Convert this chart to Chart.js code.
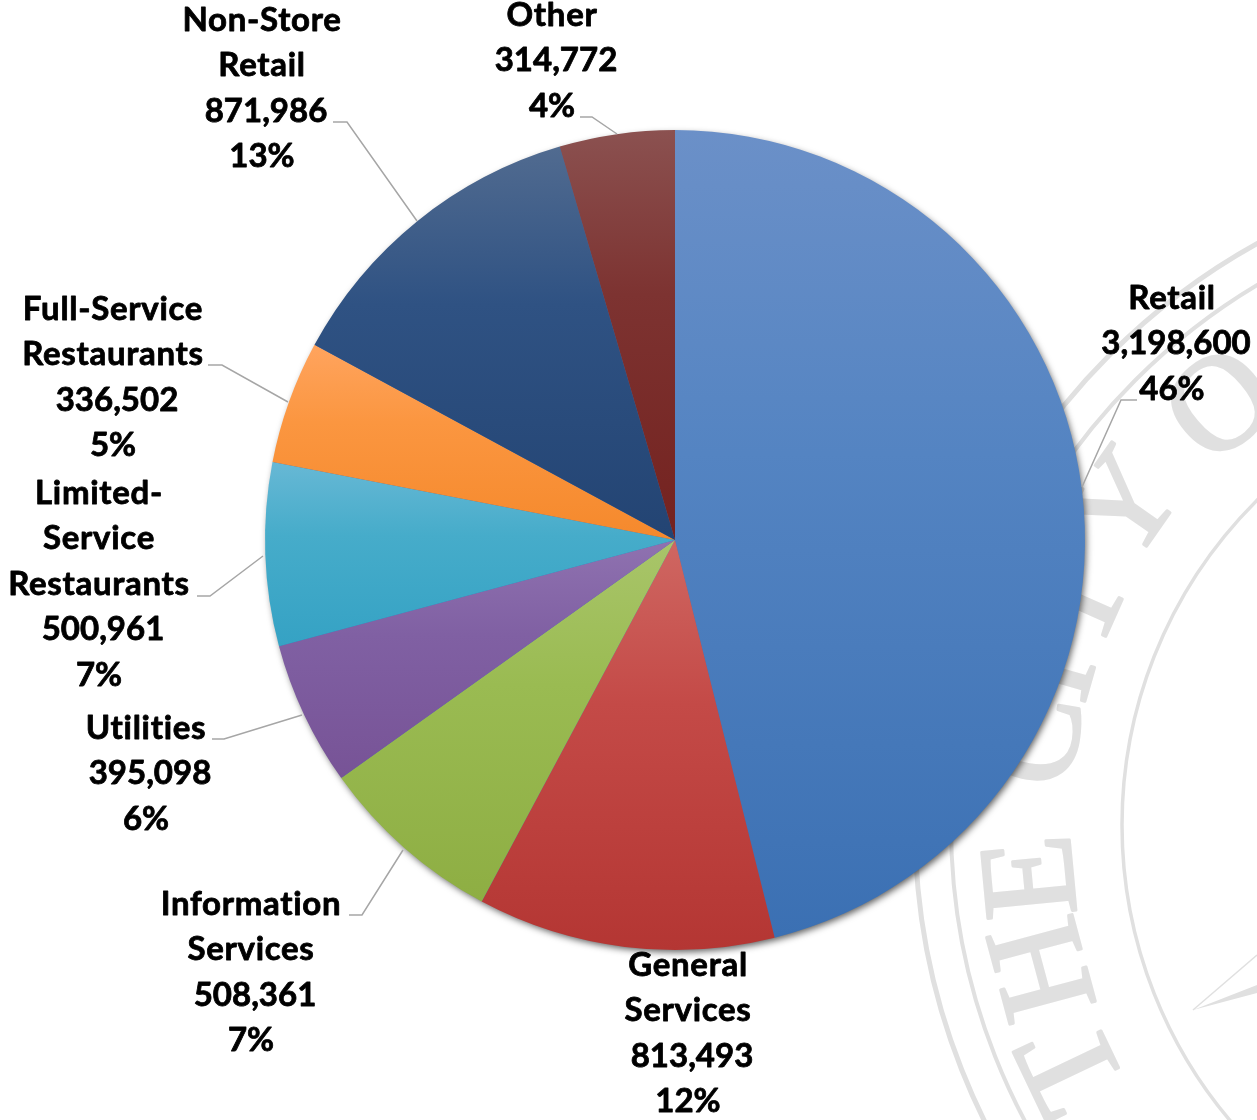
<!DOCTYPE html>
<html><head><meta charset="utf-8">
<style>html,body{margin:0;padding:0;background:#fff;overflow:hidden}canvas{display:block}</style>
<script src="https://cdn.jsdelivr.net/npm/chart.js@4"></script>
</head><body>
<canvas id="c" width="1257" height="1120"></canvas>
<script>
const categories = ["Retail","General Services","Information Services","Utilities","Limited-Service Restaurants","Full-Service Restaurants","Non-Store Retail","Other"];
const values = [3198600,813493,508361,395098,500961,336502,871986,314772];
const percents = ["46%","12%","7%","6%","7%","5%","13%","4%"];
const nameLines = [["Retail"],["General","Services"],["Information","Services"],["Utilities"],["Limited-","Service","Restaurants"],["Full-Service","Restaurants"],["Non-Store","Retail"],["Other"]];
const topColors = ["#6b90c8","#cf6762","#a9c56a","#8f72b0","#67b8d5","#ffa45e","#516b90","#8b5150"];
const midColors = ["#5484c2","#c44a47","#9abb52","#8060a3","#46acca","#fb9640","#2f5283","#7d3331"];
const bottomColors = ["#3b70b3","#b43633","#8eae43","#775396","#35a2c4","#f5892c","#234473","#74221f"];
const labelAnchors = [[1172,298],[688,965],[251,904],[146,728],[99,493],[113,309],[262,20],[552,15]];
const leaderLines = [
  [[1137,400],[1121,400],[1082,487]],null,
  [[349,915],[362,915],[403,850]],
  [[212,739],[224,739],[302,715]],
  [[197,596],[210,596],[263,556]],
  [[208,365],[222,365],[288,402]],
  [[333,122],[347,122],[417,221]],
  [[580,117],[592,117],[617,134]]
];
const sealLetters = [["T",154.5,566],["H",165,559],["E",174.6,555],["C",188.9,555],["I",196,555],["T",204,555],["Y",215,560],["O",229.5,556]];
const sealRings = [[665,5],[629,4],[458,3.5]];

const RAD = 410, LINE_H = 45.5;
function sliceRange(i, cy){
  const total = values.reduce((a,b)=>a+b,0);
  let before = 0; for(let k=0;k<i;k++) before += values[k];
  const a0 = before/total*2*Math.PI, a1 = (before+values[i])/total*2*Math.PI;
  const ys = [cy, cy-RAD*Math.cos(a0), cy-RAD*Math.cos(a1)];
  if (a0 < Math.PI && a1 > Math.PI) ys.push(cy+RAD);
  if (a0 <= 0) ys.push(cy-RAD);
  return [Math.min(...ys), Math.max(...ys)];
}
const watermark = {
  id:"watermark",
  beforeDatasetsDraw(chart){
    const g = chart.ctx, cx = 1580, cy = 825;
    g.save();
    g.strokeStyle = g.fillStyle = "#e0e0e0";
    sealRings.forEach(([r,w])=>{g.lineWidth=w;g.beginPath();g.arc(cx,cy,r,0,2*Math.PI);g.stroke();});
    g.font = "135px 'Liberation Serif'"; g.textAlign="center"; g.textBaseline="alphabetic";
    g.lineWidth = 3; g.lineJoin = "round";
    sealLetters.forEach(([ch,deg,r])=>{
      const t = deg*Math.PI/180, rb = r-45;
      g.save();
      g.translate(cx+rb*Math.cos(t), cy+rb*Math.sin(t));
      g.rotate(t+Math.PI/2);
      g.fillText(ch,0,0);
      g.strokeText(ch,0,0);
      g.restore();
    });
    g.beginPath();g.moveTo(1193,1010);g.lineTo(1257,993);g.lineTo(1257,985);g.closePath();g.fill();
    g.lineWidth=1.5;g.beginPath();g.moveTo(1193,1010);g.lineTo(1257,955);g.stroke();
    g.restore();
    const a = chart.getDatasetMeta(0).data[0];
    g.save();
    g.shadowColor="rgba(0,0,0,0.65)";g.shadowBlur=7;g.shadowOffsetX=2;g.shadowOffsetY=3;
    g.fillStyle="#3b70b3";g.beginPath();g.arc(a.x,a.y,a.outerRadius-1,0,2*Math.PI);g.fill();
    g.restore();
  }
};
const outerLabels = {
  id:"outerLabels",
  afterDatasetsDraw(chart){
    const g = chart.ctx;
    g.save();
    g.strokeStyle="#a6a6a6";g.lineWidth=1.5;
    leaderLines.forEach(l=>{ if(!l) return; g.beginPath(); l.forEach((p,i)=>i?g.lineTo(p[0],p[1]):g.moveTo(p[0],p[1])); g.stroke(); });
    g.fillStyle=g.strokeStyle="#000";g.font="bold 33px Lato";g.textAlign="center";g.textBaseline="middle";g.lineWidth=0.8;g.lineJoin="round";
    const put=(s,x,y)=>{g.fillText(s,x,y);g.strokeText(s,x,y);};
    categories.forEach((c,i)=>{
      const [x,y] = labelAnchors[i];
      const names = nameLines[i];
      g.letterSpacing="0.7px";
      names.forEach((n,k)=>put(n,x,y+k*LINE_H));
      g.letterSpacing="0px";
      put(values[i].toLocaleString("en-US"),x+4,y+names.length*LINE_H);
      put(percents[i],x,y+(names.length+1)*LINE_H);
    });
    g.restore();
  }
};
new Chart(document.getElementById("c"),{
  type:"pie",
  data:{labels:categories,datasets:[{data:values,borderWidth:0,
    backgroundColor(ctx){
      const area = ctx.chart.chartArea;
      const i = ctx.dataIndex;
      if(!area) return topColors[i];
      const [y0,y1] = sliceRange(i,(area.top+area.bottom)/2);
      const gr = ctx.chart.ctx.createLinearGradient(0,y0,0,y1);
      gr.addColorStop(0,topColors[i]);
      gr.addColorStop(0.4,midColors[i]);
      gr.addColorStop(1,bottomColors[i]);
      return gr;
    }}]},
  options:{responsive:false,animation:false,radius:RAD,
    layout:{padding:{left:93,bottom:40}},
    plugins:{legend:{display:false},tooltip:{enabled:false},title:{display:false}}},
  plugins:[watermark,outerLabels]
});
</script>
</body></html>
